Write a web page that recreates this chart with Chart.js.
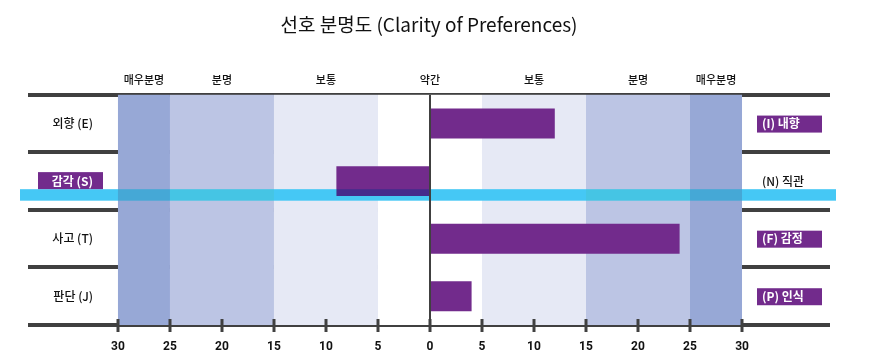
<!DOCTYPE html>
<html>
<head>
<meta charset="utf-8">
<script src="https://cdn.jsdelivr.net/npm/chart.js@4/dist/chart.umd.min.js"></script>
<style>
html,body{margin:0;padding:0;background:#fff;}
#wrap{width:869px;height:356px;position:relative;}
</style>
</head>
<body>
<div id="wrap"><canvas id="c" width="869" height="356"></canvas></div>
<script>
// ---- data ----
const titleText = '선호 분명도 (Clarity of Preferences)';
const rowsLeft = ['외향 (E)', '감각 (S)', '사고 (T)', '판단 (J)'];
const rowsRight = ['(I) 내향', '(N) 직관', '(F) 감정', '(P) 인식'];
const scores = [12, -9, 24, 4];
const zoneLabels = ['매우분명', '분명', '보통', '약간', '보통', '분명', '매우분명'];
const zoneEdges = [-30, -25, -15, -5, 5, 15, 25, 30];
const tickValues = [-30, -25, -20, -15, -10, -5, 0, 5, 10, 15, 20, 25, 30];
const highlightRow = 1;

// ---- styles ----
const zoneColors = ['#97a8d6', '#bcc5e4', '#e6e9f5', '#ffffff', '#e6e9f5', '#bcc5e4', '#97a8d6'];
const PURPLE = '#722b8c';
const DARK = '#404040';
const KFONT = '"Noto Sans CJK KR", "Noto Sans", sans-serif';

const bgPlugin = {
  id: 'bg',
  beforeDatasetsDraw(chart) {
    const {ctx, chartArea: a, scales: {x, y}} = chart;
    ctx.save();
    for (let i = 0; i < zoneLabels.length; i++) {
      const x0 = x.getPixelForValue(zoneEdges[i]);
      const x1 = x.getPixelForValue(zoneEdges[i + 1]);
      ctx.fillStyle = zoneColors[i];
      ctx.fillRect(x0, a.top, x1 - x0, a.bottom - a.top);
    }
    ctx.restore();
  },
  beforeDraw(chart) {
    const {ctx, chartArea: a, scales: {x}} = chart;
    ctx.save();
    ctx.fillStyle = '#111';
    ctx.font = '500 11px ' + KFONT;
    ctx.textAlign = 'center';
    ctx.textBaseline = 'middle';
    for (let i = 0; i < zoneLabels.length; i++) {
      const cx = (x.getPixelForValue(zoneEdges[i]) + x.getPixelForValue(zoneEdges[i + 1])) / 2;
      ctx.fillText(zoneLabels[i], cx, a.top - 15);
    }
    ctx.restore();
  },
  afterDatasetsDraw(chart) {
    const {ctx, chartArea: a, scales: {x, y}} = chart;
    ctx.save();
    const x0 = x.getPixelForValue(0);
    ctx.strokeStyle = DARK;
    ctx.lineWidth = 2;
    ctx.beginPath();
    ctx.moveTo(x0, a.top);
    ctx.lineTo(x0, a.bottom);
    ctx.stroke();
    const rowH = (a.bottom - a.top) / rowsLeft.length;
    const yc = y.getPixelForValue(highlightRow);
    ctx.globalCompositeOperation = 'darken';
    ctx.fillStyle = '#45c8f5';
    ctx.fillRect(a.left - 8, yc + 0.14 * rowH, (a.right - a.left) + 14, 0.2 * rowH);
    ctx.globalCompositeOperation = 'source-over';
    ctx.restore();
  },
  afterDraw(chart) {
    const {ctx, chartArea: a, scales: {x, y}} = chart;
    ctx.save();
    ctx.strokeStyle = DARK;
    ctx.lineWidth = 3;
    for (const v of tickValues) {
      const px = Math.round(x.getPixelForValue(v));
      ctx.beginPath();
      ctx.moveTo(px, a.bottom - 6);
      ctx.lineTo(px, a.bottom + 7);
      ctx.stroke();
    }
    ctx.textBaseline = 'middle';
    for (let i = 0; i < rowsLeft.length; i++) {
      const yc = y.getPixelForValue(i);
      const leftOn = scores[i] < 0;
      const rightOn = scores[i] > 0;
      const lx = a.left + 65;
      if (leftOn) {
        ctx.fillStyle = PURPLE;
        ctx.fillRect(a.left + 10, yc - 9, 65, 17);
        ctx.fillStyle = '#fff';
        ctx.font = 'bold 12px ' + KFONT;
      } else {
        ctx.fillStyle = '#111';
        ctx.font = '500 12px ' + KFONT;
      }
      ctx.textAlign = 'right';
      ctx.fillText(rowsLeft[i], lx, yc);
      const rx = a.right - 68;
      if (rightOn) {
        ctx.fillStyle = PURPLE;
        ctx.fillRect(a.right - 73, yc - 8, 65, 17);
        ctx.fillStyle = '#fff';
        ctx.font = 'bold 12px ' + KFONT;
      } else {
        ctx.fillStyle = '#111';
        ctx.font = '500 12px ' + KFONT;
      }
      ctx.textAlign = 'left';
      ctx.fillText(rowsRight[i], rx, yc);
    }
    ctx.restore();
  }
};

new Chart(document.getElementById('c'), {
  type: 'bar',
  data: {
    labels: rowsLeft,
    datasets: [{
      data: scores,
      backgroundColor: PURPLE,
      borderWidth: 0,
      categoryPercentage: 1,
      barPercentage: 0.52
    }]
  },
  options: {
    indexAxis: 'y',
    responsive: false,
    animation: false,
    layout: {padding: {left: 28, right: 39, top: 0, bottom: 2}},
    plugins: {
      legend: {display: false},
      tooltip: {enabled: false},
      title: {
        display: true,
        text: titleText,
        color: '#111',
        font: {family: KFONT, size: 19, weight: 'normal'},
        padding: {top: 13, bottom: 59}
      }
    },
    scales: {
      x: {
        min: -38.65,
        max: 38.46,
        afterBuildTicks(scale) { scale.ticks = tickValues.map(v => ({value: v})); },
        afterFit(scale) { scale.height = 29; },
        grid: {display: false, drawTicks: false},
        border: {display: false},
        ticks: {
          padding: 15,
          color: '#111',
          font: {family: 'Roboto', size: 12, weight: 'bold'},
          callback: v => Math.abs(v)
        }
      },
      y: {
        grid: {offset: true, color: DARK, lineWidth: 4, drawTicks: false},
        border: {display: false},
        ticks: {display: false}
      }
    }
  },
  plugins: [bgPlugin]
});
</script>
</body>
</html>
